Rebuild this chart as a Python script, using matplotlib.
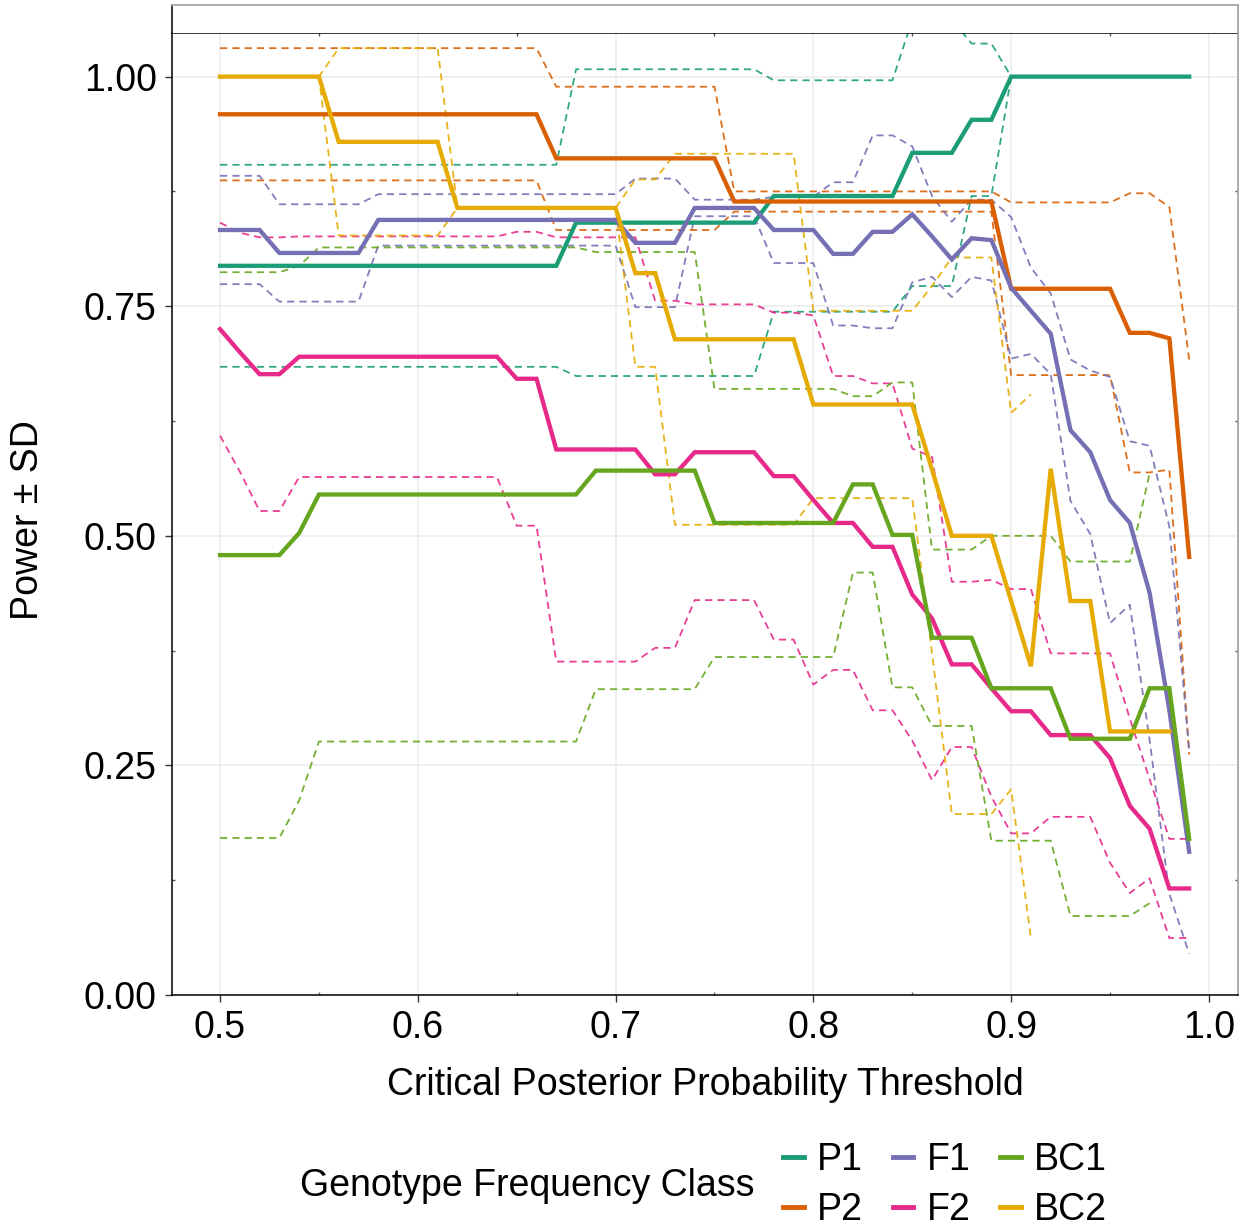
import numpy as np
import matplotlib
matplotlib.use("Agg")
import matplotlib.pyplot as plt
from matplotlib.lines import Line2D

plt.rcParams["font.family"] = ["Liberation Sans", "DejaVu Sans"]

nan = np.nan

threshold = [0.50, 0.51, 0.52, 0.53, 0.54, 0.55, 0.56, 0.57, 0.58, 0.59,
             0.60, 0.61, 0.62, 0.63, 0.64, 0.65, 0.66, 0.67, 0.68, 0.69,
             0.70, 0.71, 0.72, 0.73, 0.74, 0.75, 0.76, 0.77, 0.78, 0.79,
             0.80, 0.81, 0.82, 0.83, 0.84, 0.85, 0.86, 0.87, 0.88, 0.89,
             0.90, 0.91, 0.92, 0.93, 0.94, 0.95, 0.96, 0.97, 0.98, 0.99]

# mean power per genotype class
p1_mean = [0.794, 0.794, 0.794, 0.794, 0.794, 0.794, 0.794, 0.794, 0.794, 0.794,
           0.794, 0.794, 0.794, 0.794, 0.794, 0.794, 0.794, 0.794, 0.841, 0.841,
           0.841, 0.841, 0.841, 0.841, 0.841, 0.841, 0.841, 0.841, 0.870, 0.870,
           0.870, 0.870, 0.870, 0.870, 0.870, 0.917, 0.917, 0.917, 0.953, 0.953,
           1.000, 1.000, 1.000, 1.000, 1.000, 1.000, 1.000, 1.000, 1.000, 1.000]
p1_sd = [0.110, 0.110, 0.110, 0.110, 0.110, 0.110, 0.110, 0.110, 0.110, 0.110,
         0.110, 0.110, 0.110, 0.110, 0.110, 0.110, 0.110, 0.110, 0.167, 0.167,
         0.167, 0.167, 0.167, 0.167, 0.167, 0.167, 0.167, 0.167, 0.126, 0.126,
         0.126, 0.126, 0.126, 0.126, 0.126, 0.145, 0.145, 0.145, 0.083, 0.083,
         0.0, 0.0, 0.0, 0.0, 0.0, 0.0, 0.0, 0.0, 0.0, 0.0]

p2_mean = [0.959, 0.959, 0.959, 0.959, 0.959, 0.959, 0.959, 0.959, 0.959, 0.959,
           0.959, 0.959, 0.959, 0.959, 0.959, 0.959, 0.959, 0.911, 0.911, 0.911,
           0.911, 0.911, 0.911, 0.911, 0.911, 0.911, 0.864, 0.864, 0.864, 0.864,
           0.864, 0.864, 0.864, 0.864, 0.864, 0.864, 0.864, 0.864, 0.864, 0.864,
           0.769, 0.769, 0.769, 0.769, 0.769, 0.769, 0.721, 0.721, 0.715, 0.477]
p2_sd = [0.072, 0.072, 0.072, 0.072, 0.072, 0.072, 0.072, 0.072, 0.072, 0.072,
         0.072, 0.072, 0.072, 0.072, 0.072, 0.072, 0.072, 0.078, 0.078, 0.078,
         0.078, 0.078, 0.078, 0.078, 0.078, 0.078, 0.011, 0.011, 0.011, 0.011,
         0.011, 0.011, 0.011, 0.011, 0.011, 0.011, 0.011, 0.011, 0.011, 0.011,
         0.094, 0.094, 0.094, 0.094, 0.094, 0.094, 0.152, 0.152, 0.143, 0.215]

f1_mean = [0.833, 0.833, 0.833, 0.808, 0.808, 0.808, 0.808, 0.808, 0.844, 0.844,
           0.844, 0.844, 0.844, 0.844, 0.844, 0.844, 0.844, 0.844, 0.844, 0.844,
           0.844, 0.819, 0.819, 0.819, 0.857, 0.857, 0.857, 0.857, 0.833, 0.833,
           0.833, 0.807, 0.807, 0.831, 0.831, 0.850, 0.826, 0.801, 0.824, 0.822,
           0.770, 0.745, 0.720, 0.615, 0.591, 0.539, 0.514, 0.438, 0.310, 0.156]
f1_sd = [0.059, 0.059, 0.059, 0.053, 0.053, 0.053, 0.053, 0.053, 0.028, 0.028,
         0.028, 0.028, 0.028, 0.028, 0.028, 0.028, 0.028, 0.028, 0.028, 0.028,
         0.028, 0.070, 0.070, 0.070, 0.009, 0.009, 0.009, 0.009, 0.036, 0.036,
         0.036, 0.078, 0.078, 0.105, 0.105, 0.074, 0.044, 0.041, 0.042, 0.044,
         0.077, 0.047, 0.044, 0.077, 0.089, 0.134, 0.089, 0.160, 0.200, 0.111]

f2_mean = [0.725, 0.700, 0.676, 0.676, 0.695, 0.695, 0.695, 0.695, 0.695, 0.695,
           0.695, 0.695, 0.695, 0.695, 0.695, 0.671, 0.671, 0.594, 0.594, 0.594,
           0.594, 0.594, 0.567, 0.567, 0.591, 0.591, 0.591, 0.591, 0.565, 0.565,
           0.539, 0.514, 0.514, 0.488, 0.488, 0.436, 0.410, 0.360, 0.360, 0.334,
           0.309, 0.309, 0.283, 0.283, 0.283, 0.258, 0.206, 0.181, 0.116, 0.116]
f2_sd = [0.116, 0.130, 0.149, 0.149, 0.131, 0.131, 0.131, 0.131, 0.131, 0.131,
         0.131, 0.131, 0.131, 0.131, 0.131, 0.160, 0.160, 0.231, 0.231, 0.231,
         0.231, 0.231, 0.189, 0.189, 0.161, 0.161, 0.161, 0.161, 0.178, 0.178,
         0.201, 0.160, 0.160, 0.178, 0.178, 0.159, 0.176, 0.090, 0.090, 0.118,
         0.133, 0.133, 0.089, 0.089, 0.089, 0.114, 0.095, 0.054, 0.054, 0.054]

bc1_mean = [0.479, 0.479, 0.479, 0.479, 0.503, 0.545, 0.545, 0.545, 0.545, 0.545,
            0.545, 0.545, 0.545, 0.545, 0.545, 0.545, 0.545, 0.545, 0.545, 0.571,
            0.571, 0.571, 0.571, 0.571, 0.571, 0.514, 0.514, 0.514, 0.514, 0.514,
            0.514, 0.514, 0.556, 0.556, 0.501, 0.501, 0.389, 0.389, 0.389, 0.334,
            0.334, 0.334, 0.334, 0.279, 0.279, 0.279, 0.279, 0.334, 0.334, 0.170]
bc1_sd = [0.308, 0.308, 0.308, 0.308, 0.291, 0.269, 0.269, 0.269, 0.269, 0.269,
          0.269, 0.269, 0.269, 0.269, 0.269, 0.269, 0.269, 0.269, 0.269, 0.238,
          0.238, 0.238, 0.238, 0.238, 0.238, 0.146, 0.146, 0.146, 0.146, 0.146,
          0.146, 0.146, 0.096, 0.096, 0.166, 0.166, 0.096, 0.096, 0.096, 0.166,
          0.166, 0.166, 0.166, 0.193, 0.193, 0.193, 0.193, 0.234, nan, nan]

bc2_mean = [1.000, 1.000, 1.000, 1.000, 1.000, 1.000, 0.929, 0.929, 0.929, 0.929,
            0.929, 0.929, 0.857, 0.857, 0.857, 0.857, 0.857, 0.857, 0.857, 0.857,
            0.857, 0.786, 0.786, 0.714, 0.714, 0.714, 0.714, 0.714, 0.714, 0.714,
            0.643, 0.643, 0.643, 0.643, 0.643, 0.643, 0.572, 0.500, 0.500, 0.500,
            0.429, 0.358, 0.573, 0.429, 0.429, 0.287, 0.287, 0.287, 0.287, nan]
bc2_sd = [0.0, 0.0, 0.0, 0.0, 0.0, 0.0, 0.102, 0.102, 0.102, 0.102,
          0.102, 0.102, 0.0, 0.0, 0.0, 0.0, 0.0, 0.0, 0.0, 0.0,
          0.0, 0.102, 0.102, 0.202, 0.202, 0.202, 0.202, 0.202, 0.202, 0.202,
          0.102, 0.102, 0.102, 0.102, 0.102, 0.102, 0.200, 0.303, 0.303, 0.303,
          0.205, 0.296, nan, nan, nan, nan, nan, nan, nan, nan]

classes = ["P1", "P2", "F1", "F2", "BC1", "BC2"]
means = [p1_mean, p2_mean, f1_mean, f2_mean, bc1_mean, bc2_mean]
sds = [p1_sd, p2_sd, f1_sd, f2_sd, bc1_sd, bc2_sd]
colors = ["#1B9E77", "#D95F02", "#7570B3", "#E7298A", "#66A61E", "#E6AB02"]

W, H = 1250, 1230
fig = plt.figure(figsize=(W / 100, H / 100), dpi=100)
ax = fig.add_axes([172 / W, 1 - 995 / H, (1238 - 172) / W, (995 - 33) / H])

x = np.array(threshold)
# dashed mean +/- SD envelopes underneath, solid means on top
for m, s, c in zip(means, sds, colors):
    m = np.array(m)
    s = np.array(s)
    ax.plot(x, m + s, color=c, lw=1.3, alpha=0.9, linestyle=(0, (4, 2.8)), zorder=2)
    ax.plot(x, m - s, color=c, lw=1.3, alpha=0.9, linestyle=(0, (4, 2.8)), zorder=2)
for m, c in zip(means, colors):
    ax.plot(x, m, color=c, lw=3.1, zorder=3, solid_joinstyle="miter")

ax.set_xlim(0.4757, 1.0147)
ax.set_ylim(0, 1.0475)
ax.set_xticks([0.5, 0.6, 0.7, 0.8, 0.9, 1.0])
ax.set_xticklabels(["0.5", "0.6", "0.7", "0.8", "0.9", "1.0"])
ax.set_yticks([0, 0.25, 0.5, 0.75, 1.0])
ax.set_yticklabels(["0.00", "0.25", "0.50", "0.75", "1.00"])
ax.set_xticks([0.55, 0.65, 0.75, 0.85, 0.95], minor=True)
ax.set_yticks([0.125, 0.375, 0.625, 0.875], minor=True)
ax.grid(True, which="major", color="#EBEBEB", lw=1.1)
ax.set_axisbelow(True)
ax.tick_params(which="major", length=5, width=1, color="#333333",
               labelsize=27, labelcolor="black", pad=6)
ax.tick_params(which="minor", direction="in", length=2.5, width=1,
               color="#555555", top=True, right=True)

for side in ["left", "bottom", "top"]:
    ax.spines[side].set_color("black")
    ax.spines[side].set_linewidth(1.1)
ax.spines["right"].set_color("#A6A6A6")
ax.spines["right"].set_linewidth(1.3)

# empty strip box above the panel
strip = fig.add_axes([172 / W, 1 - 33 / H, (1238 - 172) / W, 28 / H])
strip.set_xticks([])
strip.set_yticks([])
strip.spines["bottom"].set_visible(False)
strip.spines["left"].set_color("black")
strip.spines["left"].set_linewidth(1.1)
for side in ["top", "right"]:
    strip.spines[side].set_color("#A6A6A6")
    strip.spines[side].set_linewidth(1.3)

fig.text(705 / W, 1 - 1085 / H, "Critical Posterior Probability Threshold",
         ha="center", va="center", fontsize=27)
fig.text(28 / W, 1 - 520 / H, "Power ± SD", rotation=90,
         ha="center", va="center", fontsize=27)
fig.text(300 / W, 1 - 1186 / H, "Genotype Frequency Class",
         ha="left", va="center", fontsize=27)

handles = [Line2D([0], [0], color=c, lw=3.5) for c in colors]
fig.legend(handles, classes, ncol=3, loc="center left",
           bbox_to_anchor=(783 / W, 1 - 1185 / H), frameon=False, fontsize=27,
           handlelength=0.55, handletextpad=0.35, columnspacing=0.8,
           labelspacing=0.38, borderpad=0, borderaxespad=0)

fig.savefig("out.png", dpi=100)
